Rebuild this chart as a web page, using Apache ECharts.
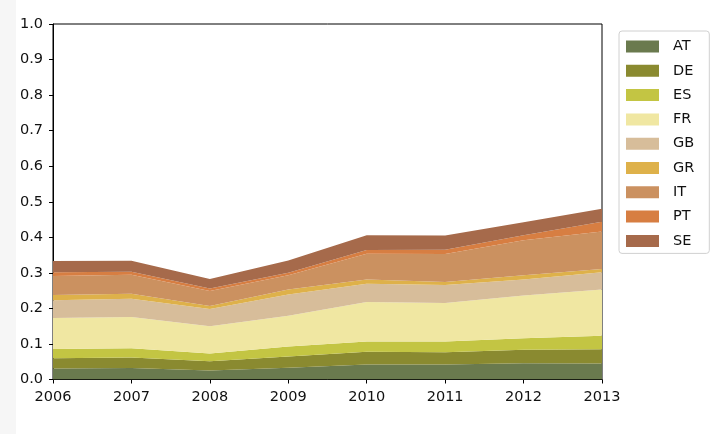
<!DOCTYPE html>
<html>
<head>
<meta charset="utf-8">
<script src="https://cdn.jsdelivr.net/npm/echarts@6/dist/echarts.min.js"></script>
<style>
html,body{margin:0;padding:0;background:#fff;}
#chart{width:723px;height:434px;}
</style>
</head>
<body>
<div id="chart"></div>
<script>
const years = ['2006','2007','2008','2009','2010','2011','2012','2013'];
const yTicks = [0,0.1,0.2,0.3,0.4,0.5,0.6,0.7,0.8,0.9,1.0];
const countries = ['AT','DE','ES','FR','GB','GR','IT','PT','SE'];
const AT = [0.031,0.032,0.025,0.033,0.042,0.042,0.046,0.045];
const DE = [0.029,0.030,0.026,0.032,0.036,0.035,0.038,0.040];
const ES = [0.026,0.026,0.022,0.028,0.029,0.030,0.032,0.038];
const FR = [0.087,0.088,0.077,0.086,0.111,0.108,0.120,0.130];
const GB = [0.050,0.051,0.048,0.060,0.051,0.051,0.045,0.049];
const GR = [0.015,0.014,0.009,0.014,0.012,0.008,0.012,0.009];
const IT = [0.053,0.054,0.042,0.040,0.073,0.079,0.099,0.105];
const PT = [0.011,0.008,0.007,0.007,0.010,0.012,0.014,0.028];
const SE = [0.031,0.031,0.027,0.035,0.042,0.040,0.036,0.036];
const values = {AT, DE, ES, FR, GB, GR, IT, PT, SE};
const colors = ['#6a7a4e','#8a8a30','#c3c543','#f0e7a2','#d7bd9a','#deb14a','#cb9160','#d77e42','#a66a4b'];

const chart = echarts.init(document.getElementById('chart'), null, {renderer:'canvas'});
const font = 'DejaVu Sans';
chart.setOption({
  animation: false,
  color: colors,
  graphic: [{type:'rect', left:0, top:0, shape:{width:16, height:434}, style:{fill:'#f6f6f6'}, z:-10}],
  grid: {left:53, top:24, right:121, bottom:54.5, show:true, borderColor:'#000', borderWidth:1, backgroundColor:'transparent'},
  legend: {
    orient:'vertical', left:619, top:31,
    data: countries,
    icon:'rect', itemWidth:33, itemHeight:12, itemGap:9.3,
    padding:[8,15,5,7],
    backgroundColor:'#fff', borderColor:'#d0d0d0', borderWidth:1, borderRadius:3,
    textStyle:{fontFamily:font, fontSize:14.5, color:'#111', lineHeight:14, padding:[0,0,0,9]}
  },
  xAxis: {
    type:'category', data: years, boundaryGap:false,
    axisLine:{lineStyle:{color:'#000', width:1}},
    axisTick:{alignWithLabel:true, length:4, lineStyle:{color:'#000'}},
    axisLabel:{fontFamily:font, fontSize:14.5, color:'#111', margin:10, interval:0},
    splitLine:{show:false}
  },
  yAxis: {
    type:'value', min:0, max:1, interval:0.1,
    axisLine:{show:true, lineStyle:{color:'#000', width:1}},
    axisTick:{show:true, length:4, lineStyle:{color:'#000'}},
    axisLabel:{fontFamily:font, fontSize:14.5, color:'#111', margin:10, formatter: v => yTicks.includes(Math.round(v*10)/10) ? (Math.round(v*10)/10).toFixed(1) : ''},
    splitLine:{show:false}
  },
  series: countries.map((c,i) => ({
    name:c, type:'line', stack:'total', data: values[c],
    symbol:'none', smooth:false,
    lineStyle:{width:0},
    areaStyle:{color:colors[i], opacity:1},
    itemStyle:{color:colors[i]}
  }))
});
</script>
</body>
</html>
